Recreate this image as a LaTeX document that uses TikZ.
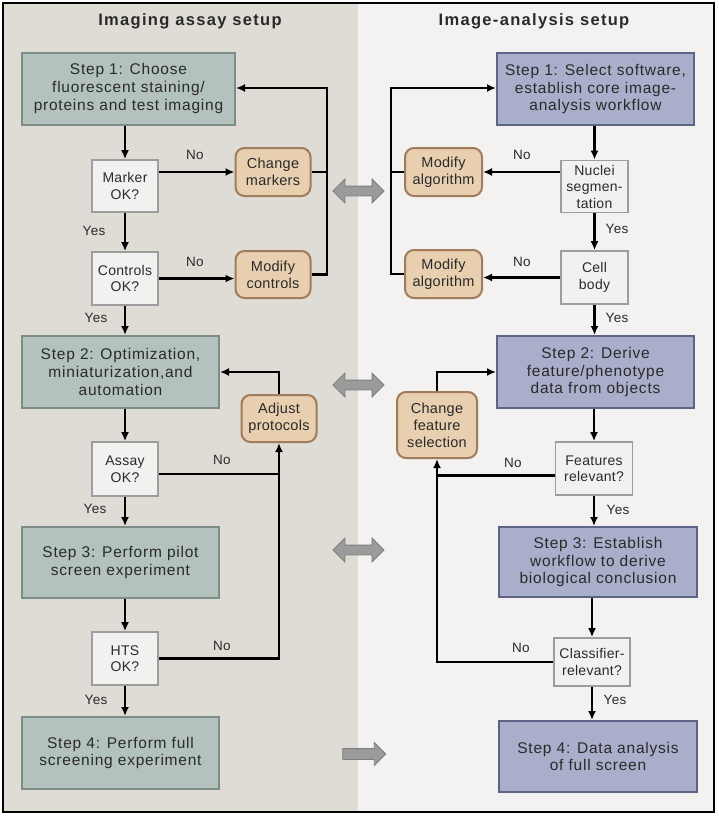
\documentclass[tikz,border=0pt]{standalone}
\usepackage{fontspec}
\setmainfont{Liberation Sans}
\newfontfamily\stepfont{Liberation Sans}[LetterSpace=5]
\newfontfamily\boxfont{Liberation Sans}[LetterSpace=2]
\newfontfamily\titlefont{Liberation Sans}[LetterSpace=8]
\usetikzlibrary{arrows.meta,shapes.arrows}

\definecolor{LeftBg}{HTML}{DEDCD5}
\definecolor{RightBg}{HTML}{F3F2F0}
\definecolor{AssayFill}{HTML}{B4C2BD}
\definecolor{AssayLine}{HTML}{7D8C87}
\definecolor{AnaFill}{HTML}{A9AECB}
\definecolor{AnaLine}{HTML}{5E6487}
\definecolor{CheckFill}{HTML}{F1F1F0}
\definecolor{CheckLine}{HTML}{9D9D9D}
\definecolor{FixFill}{HTML}{E8CFAF}
\definecolor{FixLine}{HTML}{A07B5C}
\definecolor{Txt}{HTML}{2A2A2A}
\definecolor{Big}{HTML}{9B9B9B}
\definecolor{BigLine}{HTML}{7E7E7E}

\begin{document}
\begin{tikzpicture}[x=1pt, y=-1pt,
  assaystep/.style={draw=AssayLine, fill=AssayFill, line width=2pt, align=center, inner sep=2pt,
    minimum width=197pt, minimum height=72pt, text=Txt, font=\stepfont\fontsize{15.5}{17.7}\selectfont},
  anastep/.style={assaystep, draw=AnaLine, fill=AnaFill},
  check/.style={draw=CheckLine, fill=CheckFill, line width=1.7pt, align=center, inner sep=1pt,
    minimum width=66pt, minimum height=53pt, text=Txt, font=\boxfont\fontsize{14}{16.5}\selectfont},
  fix/.style={draw=FixLine, fill=FixFill, line width=2pt, rounded corners=9pt, align=center, inner sep=1pt,
    minimum width=75pt, minimum height=48pt, text=Txt, font=\boxfont\fontsize{14.5}{17}\selectfont},
  lbl/.style={inner sep=0pt, text=Txt, font=\boxfont\fontsize{13.5}{16}\selectfont},
  ttl/.style={inner sep=0pt, text=Txt, font=\titlefont\bfseries\fontsize{16.5}{20}\selectfont},
  ln/.style={line width=2.2pt},
  arr/.style={line width=2.2pt, -{Latex[length=9pt,width=8pt]}},
  bigdbl/.style={double arrow, draw=BigLine, fill=Big, line width=0.8pt, inner sep=4.5pt,
    minimum height=51pt, double arrow head extend=7pt},
  bigsgl/.style={single arrow, draw=BigLine, fill=Big, line width=0.8pt, inner sep=5pt,
    minimum height=43pt, single arrow head extend=6pt}]

 \useasboundingbox (0,0) rectangle (718,817);

 %%%%%%%%%% Background %%%%%%%%%%
 \fill [white] (0,0) rectangle (718,817);
 \fill [LeftBg] (3,3) rectangle (358,812);
 \fill [RightBg] (358,3) rectangle (714,812);
 \draw [line width=2.5pt] (3,3) rectangle (714,812);

 \node[ttl] (tl) at (190,21) {Imaging assay setup};
 \node[ttl] (tr) at (534,21) {Image-analysis setup};

 %%%%%%%%%% Imaging assay boxes %%%%%%%%%%
 \node[assaystep, minimum width=213pt] (L1) at (128.5,88.5) {Step 1: Choose\\fluorescent staining/\\proteins and test imaging};
 \node[assaystep] (L2) at (120.5,372) {Step 2: Optimization,\\miniaturization,and\\automation};
 \node[assaystep, minimum height=71pt] (L3) at (120.5,562.5) {Step 3: Perform pilot\\screen experiment};
 \node[assaystep] (L4) at (120.5,753) {Step 4: Perform full\\screening experiment};

 \node[check, minimum height=52pt] (mk) at (125,186) {Marker\\OK?};
 \node[check] (ct) at (125,278.5) {Controls\\OK?};
 \node[check, minimum height=54pt] (as) at (125,469) {Assay\\OK?};
 \node[check] (hts) at (125,658.5) {HTS\\OK?};

 \node[fix] (cm) at (273,172) {Change\\markers};
 \node[fix, minimum height=47pt] (mc) at (273,274.5) {Modify\\controls};
 \node[fix, minimum height=47pt] (ap) at (279,418.5) {Adjust\\protocols};

 %%%%%%%%%% Image-analysis boxes %%%%%%%%%%
 \node[anastep] (R1) at (595.5,89) {Step 1: Select software,\\establish core image-\\analysis workflow};
 \node[anastep] (R2) at (595.5,372) {Step 2: Derive\\feature/phenotype\\data from objects};
 \node[anastep, minimum width=198pt, minimum height=70pt] (R3) at (598,562) {Step 3: Establish\\workflow to derive\\biological conclusion};
 \node[anastep, minimum width=198pt, minimum height=71pt] (R4) at (598,756.5) {Step 4: Data analysis\\of full screen};

 \node[check, minimum width=67pt, minimum height=52pt] (nu) at (594.5,186.5) {Nuclei\\segmen-\\tation};
 \node[check, minimum width=67pt] (cb) at (594.5,277.5) {Cell\\body};
 \node[check, minimum width=77pt] (fr) at (594,468.5) {Features\\relevant?};
 \node[check, minimum width=76pt, minimum height=48pt] (cr) at (592,662) {Classifier-\\relevant?};

 \node[fix, minimum width=77pt] (ma1) at (443.5,172) {Modify\\algorithm};
 \node[fix, minimum width=77pt] (ma2) at (443.5,274) {Modify\\algorithm};
 \node[fix, minimum width=80pt, minimum height=66pt] (cf) at (437,425) {Change\\feature\\selection};

 %%%%%%%%%% Links between the two setups %%%%%%%%%%
 \node[bigdbl] (g1) at (358.5,191) {};
 \node[bigdbl] (g2) at (358.5,385) {};
 \node[bigdbl] (g3) at (358.5,550) {};
 \node[bigsgl] (g4) at (361.5,754) {};

 %%%%%%%%%% Left flow %%%%%%%%%%
 \draw[arr] (L1.south -| mk.north) -- (mk.north);
 \draw[arr] (mk.south) -- (ct.north);
 \draw[arr] (ct.south) -- (ct.south |- L2.north);
 \draw[arr] (L2.south -| as.north) -- (as.north);
 \draw[arr] (as.south) -- (as.south |- L3.north);
 \draw[arr] (L3.south -| hts.north) -- (hts.north);
 \draw[arr] (hts.south) -- (hts.south |- L4.north);

 \coordinate (lloop) at (327,88);
 \draw[arr] (mk.east |- cm.west) -- (cm.west);
 \draw[arr] (ct.east) -- (ct.east -| mc.west);
 \draw[arr] (cm.east) -| (lloop) -- (lloop -| L1.east);
 \draw[ln] (mc.east) -| (lloop);
 \draw[arr] (ap.north) |- (L2.east);
 \draw[arr] (hts.east) -| (ap.south);
 \draw[ln] ([yshift=-5pt]as.east) -- ([yshift=-5pt]as.east -| ap.south);

 %%%%%%%%%% Right flow %%%%%%%%%%
 \draw[arr] (R1.south -| nu.north) -- (nu.north);
 \draw[arr] (nu.south) -- (cb.north);
 \draw[arr] (cb.south) -- (cb.south |- R2.north);
 \draw[arr] (R2.south -| fr.north) -- (fr.north);
 \draw[arr] (fr.south) -- (fr.south |- R3.north);
 \draw[arr] (R3.south -| cr.north) -- (cr.north);
 \draw[arr] (cr.south) -- (cr.south |- R4.north);

 \coordinate (rloop) at (391,88);
 \draw[arr] (nu.west |- ma1.east) -- (ma1.east);
 \draw[arr] (cb.west) -- (cb.west -| ma2.east);
 \draw[arr] (ma1.west) -| (rloop) -- (rloop -| R1.west);
 \draw[ln] (ma2.west) -| (rloop);
 \draw[arr] (cf.north) |- (R2.west);
 \draw[arr] (cr.west) -| (cf.south);
 \draw[ln] ([yshift=-7pt]fr.west) -- ([yshift=-7pt]fr.west -| cf.south);

 %%%%%%%%%% Yes / No %%%%%%%%%%
 \node[lbl] (n1) at (195,155) {No};
 \node[lbl] (n2) at (195,262) {No};
 \node[lbl] (n3) at (222,460) {No};
 \node[lbl] (n4) at (222,646) {No};
 \node[lbl] (y1) at (94,231) {Yes};
 \node[lbl] (y2) at (96,318) {Yes};
 \node[lbl] (y3) at (95,509) {Yes};
 \node[lbl] (y4) at (96,700) {Yes};

 \node[lbl] (n5) at (522,155) {No};
 \node[lbl] (n6) at (522,262) {No};
 \node[lbl] (n7) at (513,463) {No};
 \node[lbl] (n8) at (521,648) {No};
 \node[lbl] (y5) at (617,229) {Yes};
 \node[lbl] (y6) at (617,318) {Yes};
 \node[lbl] (y7) at (618,510) {Yes};
 \node[lbl] (y8) at (615,700) {Yes};

\end{tikzpicture}
\end{document}
